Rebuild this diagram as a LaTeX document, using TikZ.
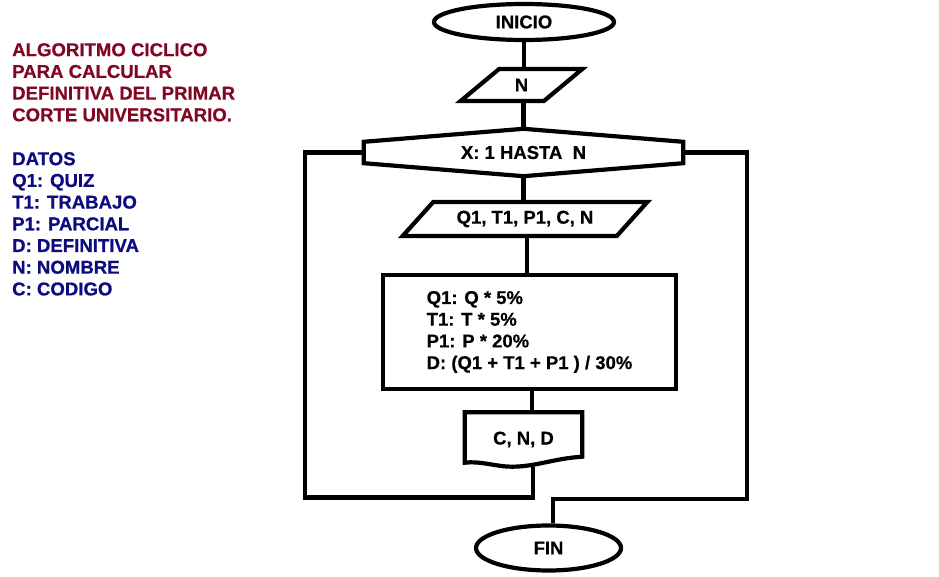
\documentclass[tikz,border=0pt]{standalone}
\usepackage{fontspec}
\setmainfont{Liberation Sans}[BoldFeatures={FakeBold=0.6}]
\usetikzlibrary{shapes.geometric}

\definecolor{titlered}{RGB}{128,8,36}
\definecolor{datablue}{RGB}{12,12,128}

\begin{document}
\begin{tikzpicture}[
  x=1pt, y=-1pt,
  every node/.style={font=\fontsize{18.5}{21.7}\selectfont\bfseries},
  line/.style={line width=4.2pt, black},
  term/.style={ellipse, draw, line width=4.2pt, inner sep=0pt},
  inout/.style={trapezium, draw, line width=4.2pt, inner sep=0pt,
                trapezium stretches=true},
  procbox/.style={rectangle, draw, line width=4.2pt, align=left, inner sep=0pt},
  plain/.style={rectangle, inner sep=0pt},
  note/.style={anchor=north west, align=left, inner sep=0pt,
               font=\fontsize{18.6}{21.7}\selectfont\bfseries},
]
\useasboundingbox[fill=white] (0,0) rectangle (939,577);

% ---------------------------------------------------------------- notes --
\node[note, text=titlered] (title) at (12,43)
  {ALGORITMO CICLICO\\PARA CALCULAR\\DEFINITIVA DEL PRIMAR\\CORTE UNIVERSITARIO.};
\node[note, text=datablue] (datos) at (12,152)
  {DATOS\\Q1: QUIZ\\T1: TRABAJO\\P1: PARCIAL\\D: DEFINITIVA\\N: NOMBRE\\C: CODIGO};

% ------------------------------------------------------------ flowchart --
\node[term, minimum width=180, minimum height=36] (inicio) at (524,22) {INICIO};
\node[inout, trapezium left angle=48, trapezium right angle=132,
      minimum width=122, minimum height=32] (leerN) at (521.5,85) {N};

\node[plain, minimum width=319, minimum height=47] (ciclo) at (523.5,152.5) {X: 1 HASTA\ \ N};
\draw[line] (ciclo.north) -- ([yshift=-13pt]ciclo.north east)
  -- ([yshift=13pt]ciclo.south east) -- (ciclo.south)
  -- ([yshift=13pt]ciclo.south west) -- ([yshift=-13pt]ciclo.north west) -- cycle;

\node[inout, trapezium left angle=36, trapezium right angle=144,
      minimum width=245, minimum height=34] (leer) at (525,219) {Q1, T1, P1, C, N};

\node[procbox, minimum width=293, minimum height=114] (calc) at (529.5,332)
  {Q1: Q * 5\%\\T1: T * 5\%\\P1: P * 20\%\\D: (Q1 + T1 + P1 ) / 30\%};

\node[plain, minimum width=117, minimum height=54] (salida) at (523.5,439.5) {C, N, D};
\draw[line] ([yshift=4pt]salida.south west) -- (salida.north west)
  -- (salida.north east) -- ([yshift=10pt]salida.south east)
  .. controls +(-30,2) and +(25,0) .. ([xshift=-12pt]salida.south)
  .. controls +(-15,0) and +(15,-2) .. ([yshift=4pt]salida.south west) -- cycle;

\node[term, minimum width=145, minimum height=45] (fin) at (548.5,548) {FIN};

% ----------------------------------------------------------- loop corners --
\coordinate (cornerL) at (305,497.5);
\coordinate (cornerR) at (747,499);

% ------------------------------------------------------------ connectors --
\draw[line] (inicio.south) -- (inicio.south |- leerN.north);
\draw[line] (leerN.south -| ciclo.north) -- (ciclo.north);
\draw[line] (ciclo.south) -- (ciclo.south |- leer.north);
\draw[line] ([xshift=2pt]leer.south) -- ([xshift=2pt]leer.south |- calc.north);
\draw[line] ([xshift=2.5pt]calc.south) -- ([xshift=2.5pt]calc.south |- salida.north);
\draw[line] ([xshift=9.5pt]salida.south) |- (cornerL) |- (ciclo.west);
\draw[line] (ciclo.east) -| (cornerR) -| ([xshift=4.5pt]fin.north);

\end{tikzpicture}
\end{document}
